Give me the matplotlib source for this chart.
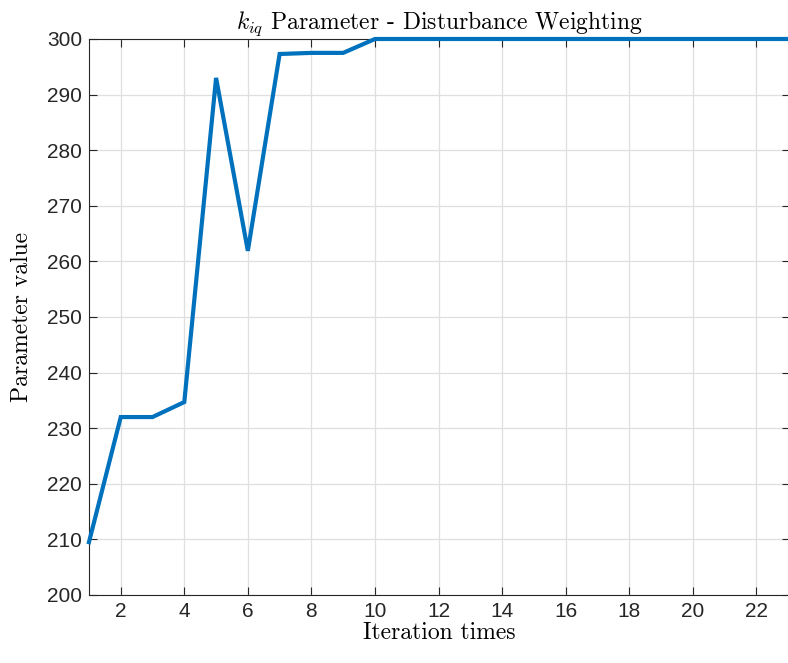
import numpy as np
import matplotlib
matplotlib.use("Agg")
import matplotlib.pyplot as plt

plt.rcParams['mathtext.fontset'] = 'cm'
plt.rcParams['font.family'] = ['Liberation Sans', 'DejaVu Sans']
plt.rcParams['axes.unicode_minus'] = False

# k_iq value at each iteration
iterations = np.arange(1, 24)
kiq = [209.5, 232.0, 232.0, 234.7, 293.0, 261.9, 297.3, 297.5, 297.5,
       300, 300, 300, 300, 300, 300, 300, 300, 300, 300, 300, 300, 300, 300]

fig = plt.figure(figsize=(7.88, 6.63), dpi=100)
ax = fig.add_axes([0.1129, 0.1026, 0.8896, 0.8386])

ax.plot(iterations, kiq, color='#0072BD', linewidth=3.0, solid_joinstyle='miter',
        clip_on=False, zorder=3)

ax.set_xlim(1, 23.06)
ax.set_ylim(200, 300)
ax.set_xticks(np.arange(2, 23, 2))
ax.set_yticks(np.arange(200, 301, 10))

ax.grid(True, color='#dfdfdf', linewidth=0.9)
ax.set_axisbelow(True)
ax.tick_params(direction='in', length=6, width=0.8, colors='#262626',
               labelsize=15, top=True, right=True, pad=5)
for s in ax.spines.values():
    s.set_color('#262626')
    s.set_linewidth(0.8)

cm = dict(family='cmr10', fontsize=17)
ax.set_title(r'$k_{iq}$ Parameter - Disturbance Weighting', pad=7, **cm)
ax.set_xlabel('Iteration times', labelpad=1, **cm)
ax.set_ylabel('Parameter value', labelpad=10, **cm)

fig.savefig('out.png', dpi=100)
